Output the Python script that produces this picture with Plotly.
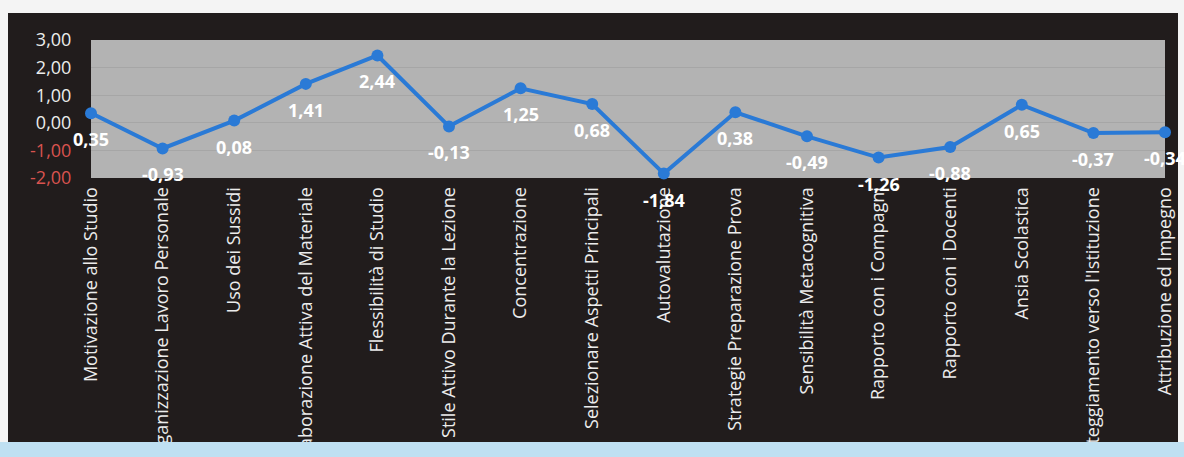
import plotly.graph_objects as go

categories = [
    "Motivazione allo Studio", "Organizzazione Lavoro Personale", "Uso dei Sussidi",
    "Elaborazione Attiva del Materiale", "Flessibilità di Studio", "Stile Attivo Durante la Lezione",
    "Concentrazione", "Selezionare Aspetti Principali", "Autovalutazione",
    "Strategie Preparazione Prova", "Sensibilità Metacognitiva", "Rapporto con i Compagni",
    "Rapporto con i Docenti", "Ansia Scolastica", "Atteggiamento verso l'Istituzione",
    "Attribuzione ed Impegno",
]
values = [0.35, -0.93, 0.08, 1.41, 2.44, -0.13, 1.25, 0.68, -1.84, 0.38, -0.49, -1.26, -0.88, 0.65, -0.37, -0.34]
y_ticks = [-2, -1, 0, 1, 2, 3]

W, H = 1184, 457
L, R, T, B = 91, 19, 40, 279
pw, ph = W - L - R, H - T - B

def px_x(p):
    return (p - L) / pw

def px_y(p):
    return (H - B - p) / ph

def fmt(v):
    return f"{v:.2f}".replace(".", ",")

tick_text = []
for v in y_ticks:
    c = "#d9534f" if v < 0 else "#ececec"
    tick_text.append(f"<span style='color:{c}'>{fmt(v)}</span>")

fig = go.Figure()
fig.add_trace(go.Scatter(
    x=list(range(len(categories))), y=values, mode="lines+markers",
    line=dict(color="#2a7ad6", width=4), marker=dict(color="#2a7ad6", size=12),
    cliponaxis=False, hoverinfo="skip",
))

for i, v in enumerate(values):
    fig.add_annotation(x=i, y=v, text=fmt(v), showarrow=False, yshift=-26,
                       font=dict(family="Open Sans", size=18, color="white", weight="bold"))

# white scan margins and bottom strip
white = "#f4f4f4"
fig.add_shape(type="rect", xref="paper", yref="paper", layer="above",
              x0=px_x(0), x1=px_x(W), y0=px_y(13), y1=px_y(0),
              fillcolor=white, line_width=0)
fig.add_shape(type="rect", xref="paper", yref="paper", layer="above",
              x0=px_x(0), x1=px_x(8), y0=px_y(442), y1=px_y(0),
              fillcolor=white, line_width=0)
fig.add_shape(type="rect", xref="paper", yref="paper", layer="above",
              x0=px_x(1178), x1=px_x(W), y0=px_y(442), y1=px_y(0),
              fillcolor=white, line_width=0)
fig.add_shape(type="rect", xref="paper", yref="paper", layer="above",
              x0=px_x(0), x1=px_x(W), y0=px_y(H), y1=px_y(442),
              fillcolor="#bfe0f2", line_width=0)

fig.update_layout(
    width=W, height=H, margin=dict(l=L, r=R, t=T, b=B),
    paper_bgcolor="#211c1c", plot_bgcolor="#b3b3b3",
    showlegend=False,
    font=dict(family="Open Sans", color="#ececec"),
)
fig.update_xaxes(
    range=[0, len(categories) - 1], tickmode="array",
    tickvals=list(range(len(categories))), ticktext=categories,
    tickangle=-90, tickfont=dict(size=18, color="#ececec"),
    showgrid=False, zeroline=False, automargin=False,
    ticks="outside", ticklen=1, tickcolor="rgba(0,0,0,0)",
)
fig.update_yaxes(
    range=[-2, 3], tickmode="array", tickvals=y_ticks, ticktext=tick_text,
    tickfont=dict(size=18), showgrid=True, gridcolor="#a6a6a6", gridwidth=1,
    zeroline=False, automargin=False,
    ticks="outside", ticklen=15, tickcolor="rgba(0,0,0,0)",
)

fig.write_html("out.html")
